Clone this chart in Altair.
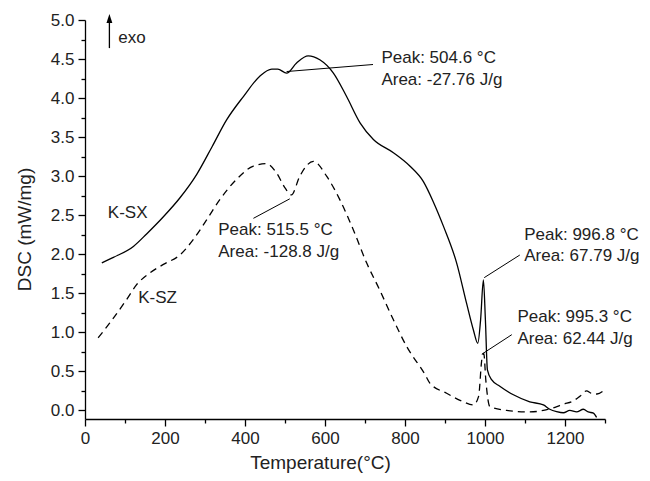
import altair as alt
import pandas as pd

# ---- data ----
ksx_T = [42, 71, 121, 154, 196, 237, 279, 318, 354, 396, 437, 467, 482, 504, 529, 558, 587,
         621, 654, 688, 721, 771, 812, 846, 870, 896, 929, 954, 971, 982, 989, 996, 1001,
         1006, 1017, 1037, 1071, 1112, 1146, 1162, 1179, 1196, 1212, 1229, 1246, 1258, 1271, 1279]
ksx_V = [1.89, 1.96, 2.10, 2.26, 2.48, 2.72, 3.02, 3.38, 3.72, 4.02, 4.28, 4.37, 4.37, 4.32, 4.45,
         4.54, 4.49, 4.32, 4.02, 3.68, 3.47, 3.30, 3.13, 2.93, 2.68, 2.36, 1.89, 1.37, 1.03, 0.86,
         1.16, 1.67, 1.16, 0.52, 0.39, 0.31, 0.20, 0.11, 0.07, 0.015, -0.015, -0.03, 0.0, -0.02,
         0.015, -0.02, -0.035, -0.09]

ksz_T = [33, 62, 104, 129, 162, 196, 237, 271, 304, 337, 379, 421, 454, 479, 500, 516, 537, 571,
         604, 637, 671, 704, 737, 771, 804, 850, 862, 904, 946, 971, 984, 992, 997, 1002, 1012,
         1054, 1112, 1146, 1175, 1196, 1220, 1237, 1254, 1265, 1280, 1296]
ksz_V = [0.93, 1.12, 1.42, 1.61, 1.76, 1.87, 1.99, 2.19, 2.44, 2.70, 2.96, 3.13, 3.16, 3.04, 2.85,
         2.76, 3.00, 3.19, 3.00, 2.70, 2.31, 1.89, 1.54, 1.16, 0.82, 0.46, 0.35, 0.22, 0.11, 0.07,
         0.18, 0.65, 0.73, 0.39, 0.05, 0.00, -0.02, 0.0, 0.04, 0.08, 0.12, 0.18, 0.25, 0.22, 0.21, 0.25]

ann_T = [741, 741, 333, 333, 1098, 1098, 1081, 1081]
ann_V = [4.45, 4.17, 2.25, 1.964, 2.186, 1.908, 1.138, 0.853]
ann_text = ["Peak: 504.6 °C", "Area: -27.76 J/g",
            "Peak: 515.5 °C", "Area: -128.8 J/g",
            "Peak: 996.8 °C", "Area: 67.79 J/g",
            "Peak: 995.3 °C", "Area: 62.44 J/g"]

lead_T1 = [504, 421, 998, 992]
lead_V1 = [4.34, 2.46, 1.70, 0.72]
lead_T2 = [720, 512, 1087, 1067]
lead_V2 = [4.43, 2.71, 1.99, 0.97]

label_T = [57, 133, 83]
label_V = [2.464, 1.374, 4.71]
label_text = ["K-SX", "K-SZ", "exo"]

arrow_T = [61]
arrow_V1 = [4.64]
arrow_V2 = [5.0]
arrow_head_V = [5.02]

x_ticks = list(range(0, 1301, 100))
y_ticks = [i * 0.25 for i in range(21)]

FONT = "Liberation Sans"

df_sx = pd.DataFrame({"T": ksx_T, "V": ksx_V})
df_sz = pd.DataFrame({"T": ksz_T, "V": ksz_V})
df_ann = pd.DataFrame({"T": ann_T, "V": ann_V, "text": ann_text})
df_lead = pd.DataFrame({"T": lead_T1, "V": lead_V1, "T2": lead_T2, "V2": lead_V2})
df_lab = pd.DataFrame({"T": label_T, "V": label_V, "text": label_text})
df_arrow = pd.DataFrame({"T": arrow_T, "V": arrow_V1, "V2": arrow_V2})
df_head = pd.DataFrame({"T": arrow_T, "V": arrow_head_V})

x_axis = alt.Axis(
    values=x_ticks,
    labelExpr="datum.value % 200 === 0 ? '' + datum.value : ''",
    tickSize={"condition": {"test": "datum.value % 200 === 0", "value": 7}, "value": 4},
    grid=False, domainColor="black", tickColor="black", domainWidth=1.3, tickWidth=1.3,
    labelFont=FONT, labelFontSize=17, labelColor="#222", labelPadding=4,
    labelFlush=False, labelOverlap=False,
    title="Temperature(°C)", titleFont=FONT, titleFontSize=19, titleFontWeight="normal",
    titleColor="#222", titleX=235, titleY=43, titleBaseline="middle", titleAnchor="middle",
)
y_axis = alt.Axis(
    values=y_ticks,
    labelExpr="round(datum.value*100) % 50 === 0 ? format(datum.value, '.1f') : ''",
    tickSize={"condition": {"test": "round(datum.value*100) % 50 === 0", "value": 7}, "value": 4},
    grid=False, domainColor="black", tickColor="black", domainWidth=1.3, tickWidth=1.3,
    labelFont=FONT, labelFontSize=17, labelColor="#222", labelPadding=4,
    labelFlush=False, labelOverlap=False,
    title="DSC (mW/mg)", titleFont=FONT, titleFontSize=19, titleFontWeight="normal",
    titleColor="#222", titleX=-61, titleY=209, titleAngle=270, titleBaseline="middle",
    titleAlign="center",
)

xs = alt.Scale(domain=[0, 1300], nice=False, zero=False)
ys = alt.Scale(domain=[-0.11, 5.0], nice=False, zero=False)


def X(f="T"):
    return alt.X(f"{f}:Q", scale=xs, axis=x_axis)


def Y(f="V"):
    return alt.Y(f"{f}:Q", scale=ys, axis=y_axis)


sx = alt.Chart(df_sx).mark_line(color="black", strokeWidth=1.3, interpolate="monotone").encode(
    x=X(), y=Y(), order="T:Q")
sz = alt.Chart(df_sz).mark_line(color="black", strokeWidth=1.3, interpolate="monotone",
                                strokeDash=[7, 5]).encode(x=X(), y=Y(), order="T:Q")
lead = alt.Chart(df_lead).mark_rule(color="black", strokeWidth=1).encode(
    x=X(), y=Y(), x2="T2:Q", y2="V2:Q")
ann = alt.Chart(df_ann).mark_text(align="left", baseline="alphabetic", font=FONT, fontSize=17,
                                  color="#222").encode(x=X(), y=Y(), text="text:N")
lab = alt.Chart(df_lab).mark_text(align="left", baseline="alphabetic", font=FONT, fontSize=17,
                                  color="#222").encode(x=X(), y=Y(), text="text:N")
arrow = alt.Chart(df_arrow).mark_rule(color="black", strokeWidth=1.3).encode(
    x=X(), y=Y(), y2="V2:Q")
head = alt.Chart(df_head).mark_point(shape="M0,-1L0.65,1L-0.65,1Z", size=81, filled=True,
                                     color="black", opacity=1).encode(x=X(), y=Y())

chart = alt.layer(sx, sz, lead, ann, lab, arrow, head).properties(
    width=520, height=399,
    autosize=alt.AutoSizeParams(type="none"),
    padding={"left": 77, "top": 12, "right": 37, "bottom": 54},
    background="white",
).configure_view(stroke=None)

chart.save("out.html", embed_options={"renderer": "svg", "actions": False})
